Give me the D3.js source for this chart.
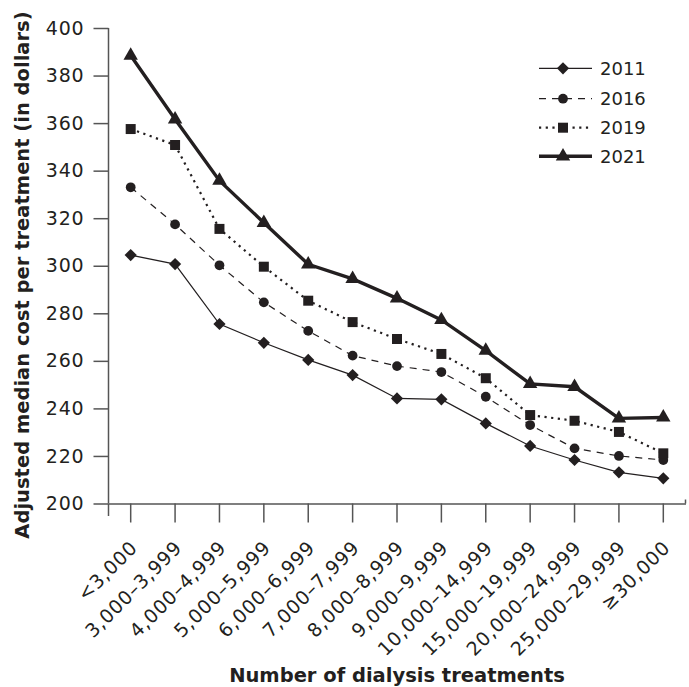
<!DOCTYPE html>
<html>
<head>
<meta charset="utf-8">
<script src="https://cdn.jsdelivr.net/npm/d3@7"></script>
<style>
  html, body { margin: 0; padding: 0; background: #fff; }
  svg { display: block; }
</style>
</head>
<body>
<svg id="chart" width="689" height="687"></svg>
<script>
const categories = ["<3,000","3,000–3,999","4,000–4,999","5,000–5,999","6,000–6,999","7,000–7,999","8,000–8,999","9,000–9,999","10,000–14,999","15,000–19,999","20,000–24,999","25,000–29,999","≥30,000"];
const years = ["2011","2016","2019","2021"];
const values2011 = [304.5, 300.7, 275.5, 267.6, 260.4, 254.0, 244.2, 243.8, 233.7, 224.2, 218.3, 213.1, 210.6];
const values2016 = [333.0, 317.4, 300.2, 284.6, 272.6, 262.2, 257.8, 255.3, 244.9, 233.0, 223.2, 220.0, 218.3];
const values2019 = [357.5, 350.8, 315.5, 299.6, 285.3, 276.3, 269.2, 262.9, 252.7, 237.2, 234.8, 230.1, 221.1];
const values2021 = [388.4, 361.6, 335.8, 318.1, 300.6, 294.5, 286.3, 277.2, 264.3, 250.3, 249.1, 235.8, 236.2];
const yTicks = [200, 220, 240, 260, 280, 300, 320, 340, 360, 380, 400];
const yTitle = "Adjusted median cost per treatment (in dollars)";
const xTitle = "Number of dialysis treatments";

const ink = "#231f20";
const axisColor = "#555";
const font = "'DejaVu Sans', Verdana, sans-serif";

const series = [
  { name: years[0], values: values2011, width: 1.2, dash: null, symbol: d3.symbolDiamond2, size: 95 },
  { name: years[1], values: values2016, width: 1.2, dash: "7,6", symbol: d3.symbolCircle, size: 75 },
  { name: years[2], values: values2019, width: 2.2, dash: "2.2,4.5", symbol: d3.symbolSquare, size: 100 },
  { name: years[3], values: values2021, width: 3.4, dash: null, symbol: d3.symbolTriangle, size: 90 }
];

const svg = d3.select("#chart");
const x = d3.scaleBand().domain(categories).range([108.5, 685.5]).padding(0);
const y = d3.scaleLinear().domain([200, 400]).range([503.5, 28]);
const cx = d => x(d) + x.bandwidth() / 2;

// Y axis
const yAxis = d3.axisLeft(y).tickValues(yTicks).tickSize(15).tickPadding(9).tickSizeOuter(0);
const gy = svg.append("g").attr("transform", "translate(108.5,0)").call(yAxis);
gy.select(".domain").attr("stroke", axisColor).attr("stroke-width", 1.5).attr("d", "M0,503.5V28");
gy.selectAll(".tick line").attr("stroke", axisColor).attr("stroke-width", 1.5);
gy.selectAll(".tick text").attr("fill", ink).attr("font-family", font).attr("font-size", 19)
  .attr("letter-spacing", 0.8);
gy.append("line").attr("x1", 0).attr("x2", 0).attr("y1", 503.5).attr("y2", 516).attr("stroke", axisColor).attr("stroke-width", 1.5);

// X axis
const xAxis = d3.axisBottom(x).tickSize(19).tickSizeOuter(0).tickFormat(() => "");
const gx = svg.append("g").attr("transform", "translate(0,503.5)").call(xAxis);
gx.select(".domain").attr("stroke", axisColor).attr("stroke-width", 1.5);
gx.selectAll(".tick line").attr("stroke", axisColor).attr("stroke-width", 1.5);
gx.append("line").attr("x1", 685.5).attr("x2", 685.5).attr("y1", 0).attr("y2", -4).attr("stroke", axisColor).attr("stroke-width", 1.5);

svg.append("g").selectAll("text").data(categories).join("text")
  .attr("transform", d => `translate(${cx(d) + 8},549) rotate(-45)`)
  .attr("text-anchor", "end")
  .attr("fill", ink).attr("font-family", font).attr("font-size", 19).attr("letter-spacing", 0.8)
  .text(d => d);

// Titles
svg.append("text")
  .attr("x", 397).attr("y", 682)
  .attr("text-anchor", "middle").attr("fill", ink)
  .attr("font-family", font).attr("font-size", 19.5).attr("font-weight", 700)
  .text(xTitle);
svg.append("text")
  .attr("transform", "translate(29,275) rotate(-90)")
  .attr("text-anchor", "middle").attr("fill", ink)
  .attr("font-family", font).attr("font-size", 19.5).attr("font-weight", 700)
  .text(yTitle);

// Lines and markers
const line = d3.line().x((d, i) => cx(categories[i])).y(d => y(d));
series.forEach(s => {
  const p = svg.append("path").datum(s.values).attr("d", line)
    .attr("fill", "none").attr("stroke", ink).attr("stroke-width", s.width)
    .attr("stroke-linejoin", "miter");
  if (s.dash) p.attr("stroke-dasharray", s.dash);
  svg.append("g").selectAll("path").data(s.values).join("path")
    .attr("transform", (d, i) => `translate(${cx(categories[i])},${y(d)})`)
    .attr("d", d3.symbol().type(s.symbol).size(s.size))
    .attr("fill", ink);
});

// Legend
const legend = svg.append("g");
const legendY = [68.3, 98.7, 127.7, 156.3];
series.forEach((s, i) => {
  const g = legend.append("g").attr("transform", `translate(0,${legendY[i]})`);
  const l = g.append("line").attr("x1", 539).attr("x2", 592).attr("y1", 0).attr("y2", 0)
    .attr("stroke", ink).attr("stroke-width", s.width);
  if (s.dash) l.attr("stroke-dasharray", s.dash);
  g.append("path").attr("transform", "translate(563,0)")
    .attr("d", d3.symbol().type(s.symbol).size(s.size)).attr("fill", ink);
  g.append("text").attr("x", 600).attr("y", 0).attr("dy", "0.36em")
    .attr("fill", ink).attr("font-family", font).attr("font-size", 18)
    .text(s.name);
});
</script>
</body>
</html>
